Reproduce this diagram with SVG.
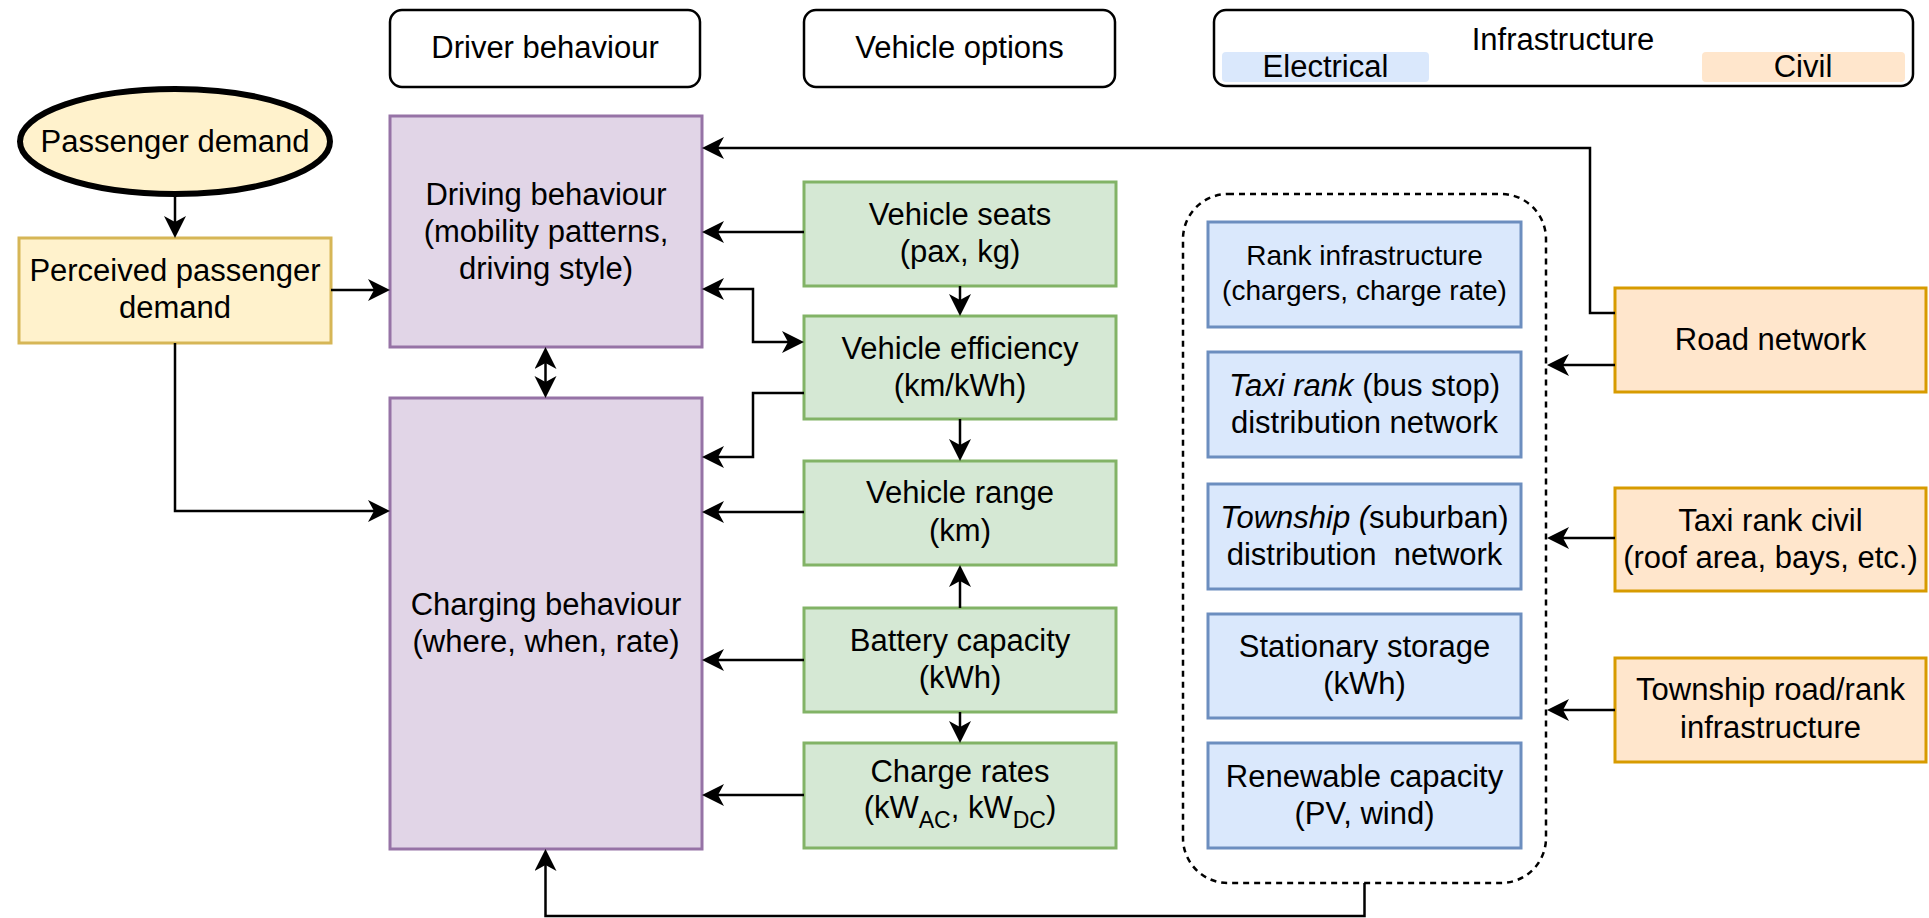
<svg xmlns="http://www.w3.org/2000/svg" width="1929" height="918" viewBox="0 0 1929 918">
  <style>
    text { font-family: "Liberation Sans", Arial, sans-serif; font-size: 31px; fill: #000; text-anchor: middle; }
    .small { font-size: 28px; }
    .it { font-style: italic; }
    .sub { font-size: 23px; }
    .header { fill: #fff; stroke: #000; stroke-width: 2.5; }
    .purple { fill: #e1d5e7; stroke: #9673a6; stroke-width: 3; }
    .green { fill: #d5e8d4; stroke: #82b366; stroke-width: 3; }
    .blue { fill: #dae8fc; stroke: #6c8ebf; stroke-width: 3; }
    .orange { fill: #ffe6cc; stroke: #d79b00; stroke-width: 3; }
    .yellow { fill: #fff2cc; stroke: #d6b656; stroke-width: 3; }
    .edge { fill: none; stroke: #000; stroke-width: 2.5; marker-end: url(#ah); }
    .both { marker-start: url(#ah); }
    .group { fill: none; stroke: #000; stroke-width: 2.5; stroke-dasharray: 6 5; }
  </style>
  <defs>
    <!-- classic notched arrowhead; tip sits 8px past the end of the line -->
    <marker id="ah" markerUnits="userSpaceOnUse" markerWidth="24" markerHeight="24" viewBox="0 0 24 24" refX="14" refY="11" orient="auto-start-reverse">
      <path d="M0,0 L22,11 L0,22 L6,11 Z" fill="#000"/>
    </marker>
  </defs>

  <rect width="1929" height="918" fill="#fff"/>

  <!-- column headers -->
  <g id="hdr-driver">
    <rect class="header" x="390" y="10" width="310" height="77" rx="12"/>
    <text x="545" y="58">Driver behaviour</text>
  </g>
  <g id="hdr-vehicle">
    <rect class="header" x="804" y="10" width="311" height="77" rx="12"/>
    <text x="959.5" y="58">Vehicle options</text>
  </g>
  <g id="hdr-infra">
    <rect class="header" x="1214" y="10" width="699" height="76" rx="12"/>
    <rect x="1222" y="52" width="207" height="30" rx="4" fill="#dae8fc"/>
    <rect x="1702" y="52" width="203" height="30" rx="4" fill="#ffe6cc"/>
    <text x="1563" y="50">Infrastructure</text>
    <text x="1325.5" y="77">Electrical</text>
    <text x="1803" y="77">Civil</text>
  </g>

  <!-- demand -->
  <g id="passenger-demand">
    <ellipse cx="175" cy="141.5" rx="155" ry="52.5" fill="#fff2cc" stroke="#000" stroke-width="6"/>
    <text x="175" y="151.5">Passenger demand</text>
  </g>
  <g id="perceived-demand">
    <rect class="yellow" x="19" y="238" width="312" height="105"/>
    <text x="175" y="281">Perceived passenger</text>
    <text x="175" y="318">demand</text>
  </g>

  <!-- driver behaviour -->
  <g id="driving-behaviour">
    <rect class="purple" x="390" y="116" width="312" height="231"/>
    <text x="546" y="205">Driving behaviour</text>
    <text x="546" y="242">(mobility patterns,</text>
    <text x="546" y="279">driving style)</text>
  </g>
  <g id="charging-behaviour">
    <rect class="purple" x="390" y="398" width="312" height="451"/>
    <text x="546" y="615">Charging behaviour</text>
    <text x="546" y="652">(where, when, rate)</text>
  </g>

  <!-- vehicle options -->
  <g id="vehicle-seats">
    <rect class="green" x="804" y="182" width="312" height="104"/>
    <text x="960" y="225">Vehicle seats</text>
    <text x="960" y="262">(pax, kg)</text>
  </g>
  <g id="vehicle-efficiency">
    <rect class="green" x="804" y="316" width="312" height="103"/>
    <text x="960" y="359">Vehicle efficiency</text>
    <text x="960" y="396">(km/kWh)</text>
  </g>
  <g id="vehicle-range">
    <rect class="green" x="804" y="461" width="312" height="104"/>
    <text x="960" y="503">Vehicle range</text>
    <text x="960" y="541">(km)</text>
  </g>
  <g id="battery-capacity">
    <rect class="green" x="804" y="608" width="312" height="104"/>
    <text x="960" y="651">Battery capacity</text>
    <text x="960" y="688">(kWh)</text>
  </g>
  <g id="charge-rates">
    <rect class="green" x="804" y="743" width="312" height="105"/>
    <text x="960" y="782">Charge rates</text>
    <text x="960" y="818">(kW<tspan class="sub" dy="10">AC</tspan><tspan dy="-10">, kW</tspan><tspan class="sub" dy="10">DC</tspan><tspan dy="-10">)</tspan></text>
  </g>

  <!-- electrical infrastructure -->
  <g id="electrical-group">
    <rect class="group" x="1183" y="194" width="363" height="689" rx="45"/>
  </g>
  <g id="rank-infrastructure">
    <rect class="blue" x="1208" y="222" width="313" height="105"/>
    <text class="small" x="1364.5" y="265">Rank infrastructure</text>
    <text class="small" x="1364.5" y="300">(chargers, charge rate)</text>
  </g>
  <g id="taxi-rank-network">
    <rect class="blue" x="1208" y="352" width="313" height="105"/>
    <text x="1364.5" y="396"><tspan class="it">Taxi rank</tspan> (bus stop)</text>
    <text x="1364.5" y="433">distribution network</text>
  </g>
  <g id="township-network">
    <rect class="blue" x="1208" y="484" width="313" height="105"/>
    <text x="1364.5" y="528"><tspan class="it">Township (</tspan>suburban)</text>
    <text x="1364.5" y="565">distribution&#160; network</text>
  </g>
  <g id="stationary-storage">
    <rect class="blue" x="1208" y="614" width="313" height="104"/>
    <text x="1364.5" y="657">Stationary storage</text>
    <text x="1364.5" y="694">(kWh)</text>
  </g>
  <g id="renewable-capacity">
    <rect class="blue" x="1208" y="743" width="313" height="105"/>
    <text x="1364.5" y="787">Renewable capacity</text>
    <text x="1364.5" y="824">(PV, wind)</text>
  </g>

  <!-- civil infrastructure -->
  <g id="road-network">
    <rect class="orange" x="1615" y="288" width="311" height="104"/>
    <text x="1770.5" y="350">Road network</text>
  </g>
  <g id="taxi-rank-civil">
    <rect class="orange" x="1615" y="488" width="311" height="103"/>
    <text x="1770.5" y="531">Taxi rank civil</text>
    <text x="1770.5" y="568">(roof area, bays, etc.)</text>
  </g>
  <g id="township-road-rank">
    <rect class="orange" x="1615" y="658" width="311" height="104"/>
    <text x="1770.5" y="700">Township road/rank</text>
    <text x="1770.5" y="738">infrastructure</text>
  </g>

  <!-- connectors -->
  <g id="connectors">
    <path class="edge" d="M175,197 V230"/>
    <path class="edge" d="M331,290 H382"/>
    <path class="edge" d="M175,343 V511 H382"/>
    <path class="edge both" d="M545.5,355 V390"/>
    <path class="edge" d="M1615,313 H1590 V148 H710"/>
    <path class="edge" d="M804,232 H710"/>
    <path class="edge" d="M960,286 V308"/>
    <path class="edge both" d="M710,289 H753 V342 H796"/>
    <path class="edge" d="M804,393 H753 V457 H710"/>
    <path class="edge" d="M960,419 V453"/>
    <path class="edge" d="M804,512 H710"/>
    <path class="edge" d="M960,608 V573"/>
    <path class="edge" d="M804,660 H710"/>
    <path class="edge" d="M960,712 V735"/>
    <path class="edge" d="M804,795 H710"/>
    <path class="edge" d="M1615,365 H1555"/>
    <path class="edge" d="M1615,538 H1555"/>
    <path class="edge" d="M1615,710 H1555"/>
    <path class="edge" d="M1364.5,883 V916 H545.5 V857"/>
  </g>
</svg>
